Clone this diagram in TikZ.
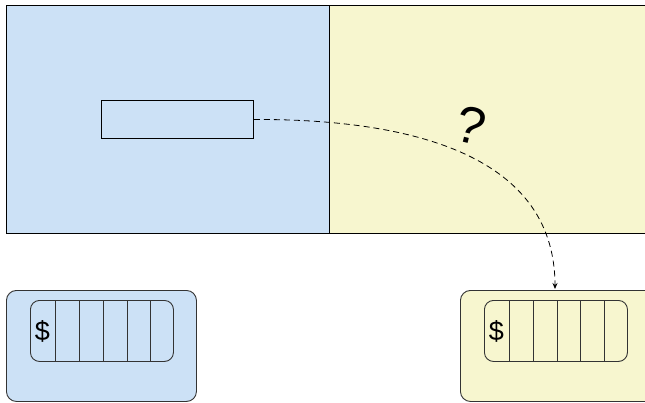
\documentclass[tikz,border=0pt]{standalone}
\usepackage{fontspec}
\setmainfont{Liberation Sans}
\usetikzlibrary{arrows.meta}
\definecolor{bluefill}{HTML}{CCE1F6}
\definecolor{yellowfill}{HTML}{F7F6CF}
\begin{document}
\begin{tikzpicture}[x=1pt,y=-1pt,line width=0.9pt,
  panel/.style={draw=black,rectangle,inner sep=0pt,anchor=north west},
  card/.style={draw=black!80,rounded corners=10pt,inner sep=0pt,anchor=north west},
  slot/.style={draw=black!80,rounded corners=9pt,inner sep=0pt,anchor=north west},
  link/.style={dashed,dash pattern=on 6pt off 4pt,line width=0.8pt,-{Stealth[length=6pt,width=5pt,inset=2pt]}}]
\useasboundingbox (0,0) rectangle (645,402);
\begin{scope}
\clip (0,0) rectangle (645,402);
% panels
\node[panel,fill=bluefill,minimum width=323pt,minimum height=228pt] (lp) at (6,5) {};
\node[panel,fill=yellowfill,minimum width=330pt,minimum height=228pt] (rp) at (329,5) {};
% inner rectangle
\node[panel,fill=bluefill,minimum width=152pt,minimum height=38pt] (box) at (101,100) {};
% cards
\node[card,fill=bluefill,minimum width=190pt,minimum height=111pt] (lc) at (6,290) {};
\node[card,fill=yellowfill,minimum width=195pt,minimum height=111pt] (rc) at (460,290) {};
% slots
\node[slot,minimum width=143pt,minimum height=61pt] (ls) at (30,300) {};
\node[slot,minimum width=143pt,minimum height=61pt] (rs) at (484,300) {};
\foreach \x in {55,79,103,127,150} \draw[black!80] (\x,300) -- (\x,361);
\foreach \x in {509,533,557,580,604} \draw[black!80] (\x,300) -- (\x,361);
\node[font=\fontsize{27}{27}\selectfont,inner sep=0pt] (ld) at (42.5,331) {\$};
\node[font=\fontsize{27}{27}\selectfont,inner sep=0pt] (rd) at (496.5,331) {\$};
\end{scope}
\node[font=\fontsize{52}{52}\selectfont,inner sep=0pt,rotate=-14] (q) at (471,125) {?};
\coordinate (tip) at (555,289);
\draw[link] (box.east) .. controls (400,119) and (555,150) .. (tip);
\end{tikzpicture}
\end{document}
